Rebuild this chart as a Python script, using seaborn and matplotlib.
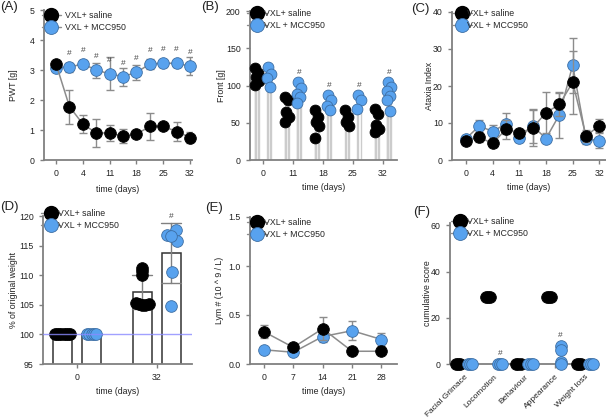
import matplotlib
matplotlib.use("Agg")
import matplotlib.pyplot as plt
import matplotlib.transforms as mtransforms
import numpy as np
import pandas as pd
import seaborn as sns
from matplotlib.lines import Line2D

# ---------------- data ----------------
groups = ["VXL+ saline", "VXL + MCC950"]

# (A) PWT [g]
a_tick_labels = ["0", "4", "11", "18", "25", "32"]
a_saline = [3.2, 1.78, 1.2, 0.9, 0.9, 0.8, 0.86, 1.12, 1.12, 0.95, 0.75]
a_saline_err = [0.05, 0.57, 0.3, 0.48, 0.28, 0.22, 0.08, 0.44, 0.08, 0.32, 0.17]
a_mcc = [3.08, 3.1, 3.2, 3.0, 2.87, 2.78, 2.92, 3.2, 3.23, 3.22, 3.13]
a_mcc_err = [0.08, 0.15, 0.12, 0.25, 0.55, 0.3, 0.25, 0.18, 0.12, 0.12, 0.3]
a_sig = [0, 1, 1, 1, 1, 1, 1, 1, 1, 1, 1]

# (B) Front [g]
b_days = ["0", "11", "18", "25", "32"]
b_saline = [[123, 117, 112, 106, 101], [85, 80, 65, 58, 51], [67, 58, 51, 45, 29],
            [67, 58, 51, 45], [68, 62, 47, 42, 38]]
b_mcc = [[125, 116, 110, 98], [105, 97, 89, 85, 76], [87, 80, 72, 67],
         [87, 80, 69], [105, 98, 92, 86, 80, 66]]
b_sig = [0, 1, 1, 1, 1]

# (C) Ataxia Index
c_tick_labels = ["0", "4", "11", "18", "25", "32"]
c_saline = [5.2, 6.1, 4.5, 8.3, 7.2, 8.7, 12.8, 15.0, 21.0, 6.5, 9.3]
c_saline_err = [1.0, 1.2, 1.0, 2.5, 1.0, 4.8, 5.5, 3.0, 8.5, 1.5, 1.8]
c_mcc = [5.8, 9.2, 7.7, 9.8, 6.0, 9.2, 5.8, 12.2, 25.6, 5.8, 5.2]
c_mcc_err = [1.0, 1.5, 1.8, 2.8, 1.2, 4.5, 1.0, 6.2, 7.5, 1.5, 2.0]

# (D) % of original weight
d_days = ["0", "32"]
d_saline = [[100, 100, 100, 100, 100, 100, 100, 100],
            [111.3, 110.7, 110.0, 105.3, 105.1, 105.0, 104.9, 105.2]]
d_mcc = [[100, 100, 100, 100, 100],
         [117.7, 116.8, 115.8, 116.6, 110.6, 104.8]]
d_sig = [0, 1]

# (E) Lym #
e_days = [0, 7, 14, 21, 28]
e_saline = [0.33, 0.17, 0.36, 0.13, 0.13]
e_saline_err = [0.065, 0.02, 0.12, 0.02, 0.02]
e_mcc = [0.145, 0.12, 0.28, 0.34, 0.25]
e_mcc_err = [0.02, 0.02, 0.055, 0.1, 0.07]

# (F) cumulative score
f_cats = ["Facial Grimace", "Locomotion", "Behaviour", "Appearance", "Weight loss"]
f_saline = [[0, 0, 0], [29, 29, 29], [0, 0, 0], [29, 29, 29], [0, 0, 0]]
f_mcc = [[0, 0, 0], [0, 0, 0], [0, 0, 0], [8, 6, 0.8, 0], [0, 0, 0]]
f_sig = [0, 1, 0, 1, 0]

# ---------------- style ----------------
sns.set_theme(style="ticks")
plt.rcParams["font.family"] = ["Liberation Sans", "DejaVu Sans"]
FS = 6.3
LINE = "#8c8c8c"
BLK = "#000000"
BLUE = "#58a2ee"
BLUE_E = "#3d6ea3"
SPINE = "#808080"
MS = 8.4
S = MS ** 2
SB = 7.8 ** 2
LMS = 10.0
W, H = 606, 418

fig = plt.figure(figsize=(W / 100, H / 100), dpi=100)


def px_ax(l, t, r, b):
    return fig.add_axes([l / W, 1 - b / H, (r - l) / W, (b - t) / H])


def style(ax):
    for s in ["top", "right"]:
        ax.spines[s].set_visible(False)
    for s in ["left", "bottom"]:
        ax.spines[s].set_color(SPINE)
        ax.spines[s].set_linewidth(1.3)
    ax.tick_params(axis="both", direction="out", length=3.2, width=1, color=SPINE,
                   labelsize=FS, pad=3.5, left=True, bottom=True, labelcolor="#222")
    ax.set_facecolor("none")
    ax.grid(False)


def set_labels(ax, l, t, r, b, ylabel, ylab_x, xlabel=None, xlab_y=None):
    ax.set_ylabel(ylabel, fontsize=FS, va="center", color="#222")
    ax.yaxis.set_label_coords((ylab_x - l) / (r - l), 0.5)
    if xlabel:
        ax.set_xlabel(xlabel, fontsize=FS, va="center", color="#222")
        ax.xaxis.set_label_coords(0.5, (b - xlab_y) / (b - t))
    else:
        ax.set_xlabel("")


def add_legend(ax, left_px, top_px, pad):
    hs = [Line2D([], [], color=LINE, lw=1, marker="o", ms=LMS, mfc=BLK, mec=BLK),
          Line2D([], [], color=LINE, lw=1, marker="o", ms=LMS, mfc=BLUE, mec=BLUE_E, mew=0.6)]
    ax.legend(hs, groups, loc="upper left", bbox_to_anchor=(left_px / W, 1 - top_px / H),
              bbox_transform=fig.transFigure, frameon=False, borderpad=0, borderaxespad=0,
              handlelength=2.2, handletextpad=pad, labelspacing=0.32, fontsize=FS)


def panel_label(txt, x_px, y_px):
    fig.text(x_px / W, 1 - y_px / H, txt, fontsize=9.5, ha="left", va="center", color="#222")


def series(ax, x, sal, sal_e, mcc, mcc_e, cap=3):
    df = pd.DataFrame({"x": list(x) * 2, "y": list(sal) + list(mcc),
                       "e": list(sal_e) + list(mcc_e),
                       "g": [groups[0]] * len(x) + [groups[1]] * len(x)})
    for g, z, fc, ec, lw in [(groups[1], 2, BLUE, BLUE_E, 0.6), (groups[0], 4, BLK, BLK, 0.6)]:
        d = df[df.g == g]
        ax.errorbar(d.x, d.y, yerr=d.e, fmt="none", ecolor=LINE, elinewidth=1,
                    capsize=cap, capthick=1, zorder=z)
        sns.lineplot(data=d, x="x", y="y", color=LINE, lw=1.1, ax=ax, zorder=z,
                     legend=False, estimator=None)
        sns.scatterplot(data=d, x="x", y="y", color=fc, edgecolor=ec, linewidth=lw,
                        s=S, ax=ax, zorder=z + 1, legend=False, clip_on=False)


# ================= (A) =================
l, t, r, b = 44, 10, 192, 160
ax = px_ax(l, t, r, b)
ax_x = np.arange(len(a_saline))
series(ax, ax_x, a_saline, a_saline_err, a_mcc, a_mcc_err)
for i, s in enumerate(a_sig):
    if s:
        ax.text(ax_x[i], a_mcc[i] + 0.45, "#", ha="center", va="center", fontsize=6, color="#444")
ax.set_xlim(-0.9, 10.15)
ax.set_ylim(0, 5)
ax.set_xticks(ax_x[::2])
ax.set_xticklabels(a_tick_labels)
ax.set_yticks([0, 1, 2, 3, 4, 5])
style(ax)
set_labels(ax, l, t, r, b, "PWT [g]", 13, "time (days)", 189)
add_legend(ax, 41.5, 11.5, 0.5)
panel_label("(A)", 0, 7)

# ================= (B) =================
l, t, r, b = 250, 11, 397, 160
ax = px_ax(l, t, r, b)
jit = [-0.07, 0.05, -0.02, 0.08, -0.05, 0.02]
rows = []
for gi in range(len(b_days)):
    for k, v in enumerate(b_saline[gi]):
        rows.append((gi - 0.2 + jit[k % len(jit)], v, groups[0]))
    for k, v in enumerate(b_mcc[gi]):
        rows.append((gi + 0.2 + jit[(k + 2) % len(jit)], v, groups[1]))
dfb = pd.DataFrame(rows, columns=["x", "y", "g"])
ax.vlines(dfb.x, 0, dfb.y, color="#cccccc", lw=1, zorder=1)
sns.scatterplot(data=dfb[dfb.g == groups[0]], x="x", y="y", color=BLK, edgecolor=BLK,
                linewidth=0.6, s=SB, ax=ax, zorder=3, legend=False, clip_on=False)
sns.scatterplot(data=dfb[dfb.g == groups[1]], x="x", y="y", color=BLUE, edgecolor=BLUE_E,
                linewidth=0.6, s=SB, ax=ax, zorder=4, legend=False, clip_on=False)
for gi, s in enumerate(b_sig):
    if s:
        ax.text(gi + 0.2, max(b_mcc[gi]) + 13, "#", ha="center", va="center", fontsize=6, color="#444")
ax.set_xlim(-0.43, 4.47)
ax.set_ylim(0, 200)
ax.set_xticks(range(len(b_days)))
ax.set_xticklabels(b_days)
ax.set_yticks([0, 50, 100, 150, 200])
style(ax)
set_labels(ax, l, t, r, b, "Front [g]", 221, "time (days)", 188)
add_legend(ax, 247.5, 9, -0.36)
panel_label("(B)", 201, 7)

# ================= (C) =================
l, t, r, b = 452, 12, 606, 160
ax = px_ax(l, t, r, b)
cx = np.arange(len(c_saline))
series(ax, cx, c_saline, c_saline_err, c_mcc, c_mcc_err)
ax.set_xlim(-1.05, 10.5)
ax.set_ylim(0, 40)
ax.set_xticks(cx[::2])
ax.set_xticklabels(c_tick_labels)
ax.set_yticks([0, 10, 20, 30, 40])
style(ax)
set_labels(ax, l, t, r, b, "Ataxia Index", 429, "time (days)", 188)
add_legend(ax, 452.5, 9, -0.57)
panel_label("(C)", 411, 9)

# ================= (D) =================
l, t, r, b = 43, 216, 192, 364
ax = px_ax(l, t, r, b)
rows = []
for gi, day in enumerate(d_days):
    for v in d_saline[gi]:
        rows.append((day, v, groups[0]))
    for v in d_mcc[gi]:
        rows.append((day, v, groups[1]))
dfd = pd.DataFrame(rows, columns=["day", "y", "g"])
sns.barplot(data=dfd, x="day", y="y", hue="g", hue_order=groups, order=d_days,
            palette={groups[0]: "white", groups[1]: "white"}, errorbar="sd",
            width=0.73, gap=0.35, capsize=0.5, edgecolor="#333", linewidth=1.1,
            err_kws={"color": "#808080", "linewidth": 1}, legend=False, ax=ax, zorder=2)
off_black = [[-0.09, -0.065, -0.04, -0.015, 0.015, 0.04, 0.065, 0.09],
             [0.0, 0.0, 0.0, -0.08, -0.04, 0.0, 0.04, 0.08]]
off_blue = [[-0.06, -0.03, 0.0, 0.03, 0.06],
            [0.06, -0.055, 0.07, 0.0, 0.01, 0.0]]
pts = []
for gi in range(len(d_days)):
    for k, v in enumerate(d_saline[gi]):
        pts.append((gi - 0.1825 + off_black[gi][k], v, groups[0]))
    for k, v in enumerate(d_mcc[gi]):
        pts.append((gi + 0.1825 + off_blue[gi][k], v, groups[1]))
dfp = pd.DataFrame(pts, columns=["x", "y", "g"])
sns.scatterplot(data=dfp[dfp.g == groups[0]], x="x", y="y", color=BLK, edgecolor=BLK,
                linewidth=0.6, s=S, ax=ax, zorder=4, legend=False, clip_on=False)
sns.scatterplot(data=dfp[dfp.g == groups[1]], x="x", y="y", color=BLUE, edgecolor=BLUE_E,
                linewidth=0.6, s=S, ax=ax, zorder=5, legend=False, clip_on=False)
ax.axhline(100, color="#8a8aff", lw=1, alpha=0.8, zorder=6)
for gi, s in enumerate(d_sig):
    if s:
        ax.text(gi + 0.1825, np.mean(d_mcc[gi]) + np.std(d_mcc[gi], ddof=1) + 1.2, "#",
                ha="center", va="center", fontsize=6, color="#444")
ax.set_xlim(-0.425, 1.44)
ax.set_ylim(95, 120)
ax.set_yticks([95, 100, 105, 110, 115, 120])
style(ax)
set_labels(ax, l, t, r, b, "% of original weight", 13, "time (days)", 391)
add_legend(ax, 41, 209, -0.2)
panel_label("(D)", 0, 207)

# ================= (E) =================
l, t, r, b = 250, 217, 397, 364
ax = px_ax(l, t, r, b)
series(ax, e_days, e_saline, e_saline_err, e_mcc, e_mcc_err)
ax.set_xlim(-3.3, 31.7)
ax.set_ylim(0, 1.5)
ax.set_xticks(e_days)
ax.set_xticklabels([str(d) for d in e_days])
ax.set_yticks([0.0, 0.5, 1.0, 1.5])
ax.set_yticklabels(["0.0", "0.5", "1.0", "1.5"])
style(ax)
set_labels(ax, l, t, r, b, "Lym # (10 ^ 9 / L)", 220, "time (days)", 392)
add_legend(ax, 247.5, 218, -0.36)
panel_label("(E)", 205, 208)

# ================= (F) =================
l, t, r, b = 450, 223, 598, 364
ax = px_ax(l, t, r, b)
off_f = [-0.07, 0.0, 0.07, 0.0]
pts = []
for gi in range(len(f_cats)):
    for k, v in enumerate(f_saline[gi]):
        pts.append((gi - 0.2 + off_f[k % 4], v, groups[0]))
    for k, v in enumerate(f_mcc[gi]):
        pts.append((gi + 0.2 + off_f[k % 4] * (v == 0), v, groups[1]))
dff = pd.DataFrame(pts, columns=["x", "y", "g"])
sns.scatterplot(data=dff[dff.g == groups[0]], x="x", y="y", color=BLK, edgecolor=BLK,
                linewidth=0.6, s=S, ax=ax, zorder=4, legend=False, clip_on=False)
sns.scatterplot(data=dff[dff.g == groups[1]], x="x", y="y", color=BLUE, edgecolor=BLUE_E,
                linewidth=0.6, s=S, ax=ax, zorder=5, legend=False, clip_on=False)
for gi, s in enumerate(f_sig):
    if s:
        ax.text(gi + 0.2, max(f_mcc[gi]) + 4.5, "#", ha="center", va="center", fontsize=6, color="#444")
ax.set_xlim(-0.46, 4.43)
ax.set_ylim(0, 61)
ax.set_xticks(range(len(f_cats)))
ax.set_xticklabels(f_cats, rotation=45, ha="right", rotation_mode="anchor", fontsize=6.0)
shift = mtransforms.ScaledTranslation(4 / 100, 1 / 100, fig.dpi_scale_trans)
for lab in ax.get_xticklabels():
    lab.set_transform(lab.get_transform() + shift)
ax.set_yticks([0, 20, 40, 60])
style(ax)
ax.tick_params(axis="x", labelsize=6.0)
set_labels(ax, l, t, r, b, "cumulative score", 427)
add_legend(ax, 450.5, 217.5, -0.3)
panel_label("(F)", 413, 212)

fig.savefig("out.png", dpi=100)
